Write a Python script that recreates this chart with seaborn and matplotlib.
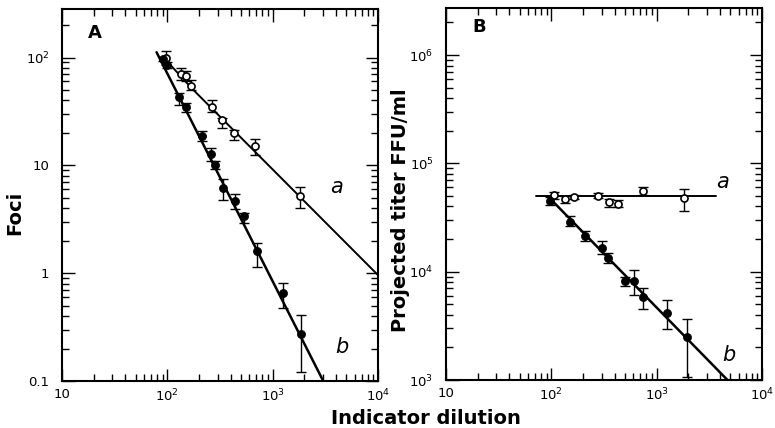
import numpy as np
import pandas as pd
import matplotlib
import matplotlib.pyplot as plt
import seaborn as sns
from matplotlib.ticker import LogLocator, FixedLocator, FixedFormatter, NullFormatter

matplotlib.use('Agg')

# ---- panel A: foci vs indicator dilution ----
a_open_x = [98, 134, 151, 169, 266, 331, 427, 686, 1820]
a_open_y = [98, 71, 67, 55, 35, 26.5, 20, 15, 5.2]
a_open_lo = [85, 62, 60, 50, 31, 22.4, 17.2, 12.5, 4.0]
a_open_hi = [115, 80, 75, 62, 40, 27.5, 21.3, 17.6, 6.3]

a_fill_x = [90, 100, 130, 151, 212, 258, 284, 341, 440, 538, 716, 1265, 1850]
a_fill_y = [97, 85, 43, 35, 18.9, 12.8, 10.1, 6.2, 4.7, 3.36, 1.6, 0.66, 0.275]
a_fill_lo = [92, 80, 36.3, 31, 17, 11, 9.2, 4.8, 3.9, 2.9, 1.15, 0.48, 0.12]
a_fill_hi = [102, 90, 46.7, 38, 21, 14.4, 11, 7.4, 5.4, 3.6, 1.92, 0.805, 0.41]

a_line_a_x = [95, 170, 10000]
a_line_a_y = [97, 52, 0.96]
a_line_b_x = [79, 3020]
a_line_b_y = [112, 0.1]

# ---- panel B: projected titer ----
b_open_x = [106, 136, 165, 279, 351, 427, 736, 1820]
b_open_y = [51000, 46900, 49000, 50000, 44000, 42500, 55600, 48200]
b_open_lo = [46600, 43500, 46500, 47500, 39800, 39500, 51000, 36300]
b_open_hi = [54800, 50500, 51500, 53000, 46900, 45500, 60500, 58000]

b_fill_x = [98, 151, 211, 301, 346, 505, 604, 736, 1240, 1920]
b_fill_y = [45000, 29000, 21400, 16700, 13300, 8270, 8270, 5880, 4130, 2480]
b_fill_lo = [41000, 26300, 19000, 14500, 12000, 7380, 6100, 4530, 2940, 1070]
b_fill_hi = [49000, 32700, 23500, 19000, 14800, 9000, 10400, 7030, 5480, 3660]

b_line_a_x = [71, 3690]
b_line_a_y = [50000, 50000]
b_line_b_x = [98, 4700]
b_line_b_y = [47000, 1000]

x_ticks = [10, 100, 1000, 10000]
x_labels = ['10', '$10^2$', '$10^3$', '$10^4$']
ya_ticks = [0.1, 1, 10, 100]
ya_labels = ['0.1', '1', '10', '$10^2$']
yb_ticks = [1e3, 1e4, 1e5, 1e6]
yb_labels = ['$10^3$', '$10^4$', '$10^5$', '$10^6$']

sns.set_theme(style="ticks")
plt.rcParams['font.family'] = ['DejaVu Sans']
plt.rcParams['mathtext.fontset'] = 'dejavusans'
plt.rcParams['text.color'] = 'black'
plt.rcParams['axes.labelcolor'] = 'black'

fig = plt.figure(figsize=(7.75, 4.28), dpi=100)
axA = fig.add_axes([62 / 775, 47 / 428, 316 / 775, 372 / 428])
axB = fig.add_axes([446 / 775, 48 / 428, 316 / 775, 372 / 428])


def draw_panel(ax, ox, oy, olo, ohi, fx, fy, flo, fhi, la_x, la_y, lb_x, lb_y):
    sns.lineplot(x=la_x, y=la_y, ax=ax, color='black', lw=1.4, sort=False, estimator=None)
    sns.lineplot(x=lb_x, y=lb_y, ax=ax, color='black', lw=1.8, sort=False, estimator=None)
    for x, y, lo, hi in [(ox, oy, olo, ohi), (fx, fy, flo, fhi)]:
        y = np.array(y)
        err = [y - np.array(lo), np.array(hi) - y]
        ax.errorbar(x, y, yerr=err, fmt='none', ecolor='black', elinewidth=1.0,
                    capsize=3.5, capthick=1.0, zorder=3)
    df_o = pd.DataFrame({'x': ox, 'y': oy})
    df_f = pd.DataFrame({'x': fx, 'y': fy})
    sns.scatterplot(data=df_o, x='x', y='y', ax=ax, marker='o', s=26, facecolor='white',
                    edgecolor='black', linewidth=1.2, zorder=4)
    sns.scatterplot(data=df_f, x='x', y='y', ax=ax, marker='o', s=34, color='black',
                    edgecolor='black', linewidth=0.5, zorder=4)


draw_panel(axA, a_open_x, a_open_y, a_open_lo, a_open_hi,
           a_fill_x, a_fill_y, a_fill_lo, a_fill_hi,
           a_line_a_x, a_line_a_y, a_line_b_x, a_line_b_y)
draw_panel(axB, b_open_x, b_open_y, b_open_lo, b_open_hi,
           b_fill_x, b_fill_y, b_fill_lo, b_fill_hi,
           b_line_a_x, b_line_a_y, b_line_b_x, b_line_b_y)

for ax, yt, yl, ylim in [(axA, ya_ticks, ya_labels, (0.1, 282)),
                         (axB, yb_ticks, yb_labels, (1e3, 2.72e6))]:
    ax.set_xscale('log')
    ax.set_yscale('log')
    ax.set_xlim(10, 1e4)
    ax.set_ylim(*ylim)
    ax.xaxis.set_major_locator(FixedLocator(x_ticks))
    ax.xaxis.set_major_formatter(FixedFormatter(x_labels))
    ax.yaxis.set_major_locator(FixedLocator(yt))
    ax.yaxis.set_major_formatter(FixedFormatter(yl))
    ax.xaxis.set_minor_locator(LogLocator(base=10, subs=np.arange(2, 10), numticks=20))
    ax.yaxis.set_minor_locator(LogLocator(base=10, subs=np.arange(2, 10), numticks=20))
    ax.xaxis.set_minor_formatter(NullFormatter())
    ax.yaxis.set_minor_formatter(NullFormatter())
    ax.tick_params(which='both', direction='in', top=True, right=True, colors='black',
                   width=1.0, labelsize=9.5, labelcolor='black')
    ax.tick_params(which='major', length=9)
    ax.tick_params(which='minor', length=5)
    ax.tick_params(axis='y', pad=9)
    ax.tick_params(axis='x', pad=5)
    for sp in ax.spines.values():
        sp.set_linewidth(1.5)
        sp.set_color('black')
    ax.set_xlabel('')
    ax.set_ylabel('')

axA.text(0.082, 0.935, 'A', transform=axA.transAxes, fontsize=13, fontweight='bold',
         ha='left', va='center', color='black')
axB.text(0.085, 0.95, 'B', transform=axB.transAxes, fontsize=13, fontweight='bold',
         ha='left', va='center', color='black')

axA.text(4060, 6.3, 'a', fontsize=15, style='italic', ha='center', va='center', color='black')
axA.text(4530, 0.208, 'b', fontsize=15, style='italic', ha='center', va='center', color='black')
axB.text(4200, 67800, 'a', fontsize=15, style='italic', ha='center', va='center', color='black')
axB.text(4860, 1700, 'b', fontsize=15, style='italic', ha='center', va='center', color='black')

fig.text(15 / 775, 1 - 213 / 428, 'Foci', rotation=90, ha='center', va='center',
         fontsize=14, fontweight='bold', color='black')
fig.text(400 / 775, 1 - 210 / 428, 'Projected titer FFU/ml', rotation=90, ha='center',
         va='center', fontsize=14, fontweight='bold', color='black')
fig.text(426 / 775, 1 - 418 / 428, 'Indicator dilution', ha='center', va='center',
         fontsize=14, fontweight='bold', color='black')

fig.savefig('out.png', dpi=100)
